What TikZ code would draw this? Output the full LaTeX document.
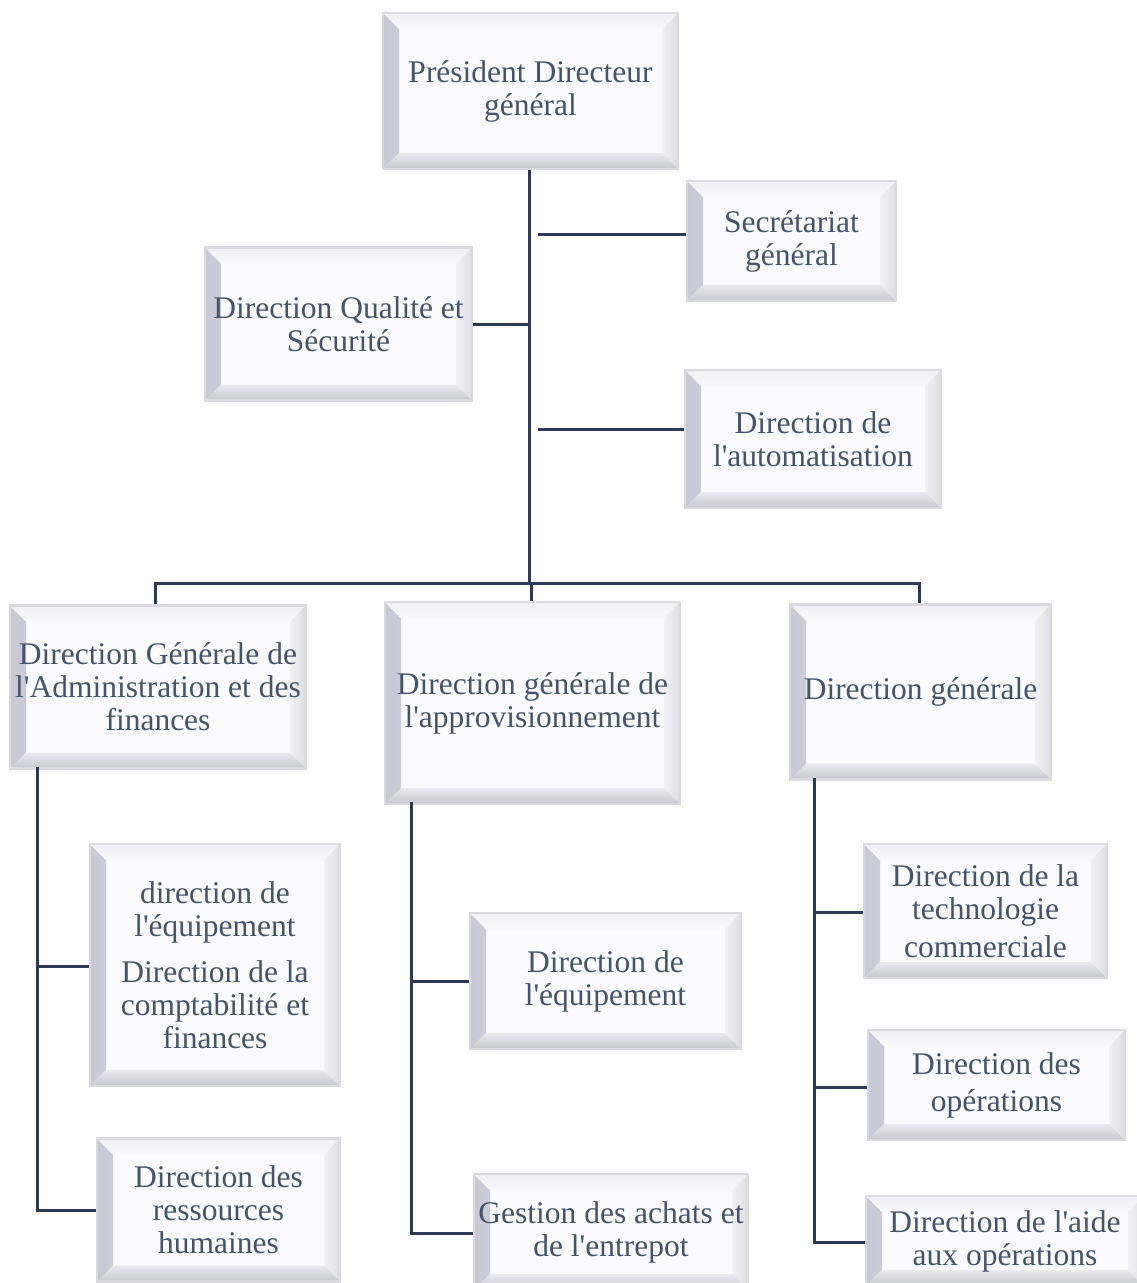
\documentclass[tikz,border=0pt]{standalone}
\usepackage{fontspec}
\setmainfont{Liberation Serif}[Ligatures=TeXOff]
\definecolor{txt}{HTML}{44546A}
\definecolor{linec}{HTML}{2C3A55}
\definecolor{bevborder}{HTML}{DADADE}
\definecolor{bevface}{HTML}{FBFBFD}
\definecolor{bevLo}{HTML}{C9C9D6}
\definecolor{bevLi}{HTML}{EDEDF3}
\definecolor{bevTo}{HTML}{F0F0F4}
\definecolor{bevTi}{HTML}{F9F9FB}
\definecolor{bevRo}{HTML}{DCDCE2}
\definecolor{bevRi}{HTML}{F1F1F5}
\definecolor{bevBo}{HTML}{C6C6CE}
\definecolor{bevBi}{HTML}{E9E9EE}
\tikzset{
  bev/.style={draw=bevborder, line width=2.5pt, fill=bevface, text=txt, align=center,
    inner sep=0pt, font=\fontsize{31.5}{33}\selectfont,
    path picture={
      \def\bw{16pt}
      \shade[left color=bevLo, right color=bevLi]
        (path picture bounding box.north west) -- (path picture bounding box.south west)
        -- ([shift={(\bw,\bw)}]path picture bounding box.south west)
        -- ([shift={(\bw,-\bw)}]path picture bounding box.north west) -- cycle;
      \shade[top color=bevTo, bottom color=bevTi]
        (path picture bounding box.north west) -- (path picture bounding box.north east)
        -- ([shift={(-\bw,-\bw)}]path picture bounding box.north east)
        -- ([shift={(\bw,-\bw)}]path picture bounding box.north west) -- cycle;
      \shade[left color=bevRi, right color=bevRo]
        (path picture bounding box.north east) -- (path picture bounding box.south east)
        -- ([shift={(-\bw,\bw)}]path picture bounding box.south east)
        -- ([shift={(-\bw,-\bw)}]path picture bounding box.north east) -- cycle;
      \shade[top color=bevBi, bottom color=bevBo]
        (path picture bounding box.south west) -- (path picture bounding box.south east)
        -- ([shift={(-\bw,\bw)}]path picture bounding box.south east)
        -- ([shift={(\bw,\bw)}]path picture bounding box.south west) -- cycle;
    }},
  conn/.style={draw=linec, line width=3pt}
}
\begin{document}
\begin{tikzpicture}[x=1pt,y=1pt]
\useasboundingbox (0,0) rectangle (1136,-1283);
\fill[white] (0,0) rectangle (1136,-1283);

\coordinate (jn) at (529,-583);
\coordinate (s1) at (538,-234);
\coordinate (a1) at (538,-429);
\coordinate (lt) at (37,-767);
\coordinate (mt) at (411,-802);
\coordinate (rt) at (814,-778);

% boxes
\node[bev, minimum width=295, minimum height=156] (pdg) at (530.5,-91) {Président Directeur\\général};
\node[bev, minimum width=209, minimum height=120] (sec) at (791.5,-241) {Secrétariat\\général};
\node[bev, minimum width=267, minimum height=153] (qual) at (338.5,-324) {Direction Qualité et\\Sécurité};
\node[bev, minimum width=256, minimum height=138] (auto) at (813,-439) {Direction de\\l'automatisation};
\node[bev, minimum width=296, minimum height=163] (dga) at (158,-687) {Direction Générale de\\l'Administration et des\\finances};
\node[bev, minimum width=295, minimum height=202] (dgap) at (532.5,-703) {Direction générale de\\l'approvisionnement};
\node[bev, minimum width=261, minimum height=175] (dgg) at (920.5,-692) {Direction générale};
\node[bev, minimum width=250, minimum height=242] (eq) at (215,-965) {direction de\\l'équipement\\[13pt]Direction de la\\comptabilité et\\finances};
\node[bev, minimum width=243, minimum height=143] (rh) at (218.5,-1210) {Direction des\\ressources\\humaines};
\node[bev, minimum width=271, minimum height=136] (eqm) at (605.5,-981) {Direction de\\l'équipement};
\node[bev, minimum width=274, minimum height=116] (ach) at (611,-1232) {Gestion des achats et\\de l'entrepot};
\node[bev, minimum width=243, minimum height=134] (tech) at (985.5,-911) {Direction de la\\technologie\\[5pt]commerciale};
\node[bev, minimum width=257, minimum height=110] (ops) at (996.5,-1085) {Direction des\\[4pt]opérations};
\node[bev, minimum width=278, minimum height=90] (aide) at (1005,-1241) {Direction de l'aide\\aux opérations};

% trunk and links
\draw[conn] (pdg.south -| jn) -- (jn);
\draw[conn] (qual.east) -- (qual.east -| jn);
\draw[conn] (s1) -- (s1 -| sec.west);
\draw[conn] (a1) -- (a1 -| auto.west);
\draw[conn] ([xshift=-3]dga.north) |- (jn) -| ([xshift=-1.5]dgg.north);
\draw[conn] ([xshift=-1.5]dgap.north) -- ([xshift=-1.5]dgap.north |- jn);
% left branch
\draw[conn] (lt) |- ([yshift=-0.5]rh.west);
\draw[conn] ([yshift=-1]lt |- eq.west) -- ([yshift=-1]eq.west);
% middle branch
\draw[conn] (mt) |- ([yshift=-1]ach.west);
\draw[conn] ([yshift=-0.5]mt |- eqm.west) -- ([yshift=-0.5]eqm.west);
% right branch
\draw[conn] (rt) |- ([yshift=-1]aide.west);
\draw[conn] ([yshift=-1]rt |- tech.west) -- ([yshift=-1]tech.west);
\draw[conn] ([yshift=-2]rt |- ops.west) -- ([yshift=-2]ops.west);
\end{tikzpicture}
\end{document}
